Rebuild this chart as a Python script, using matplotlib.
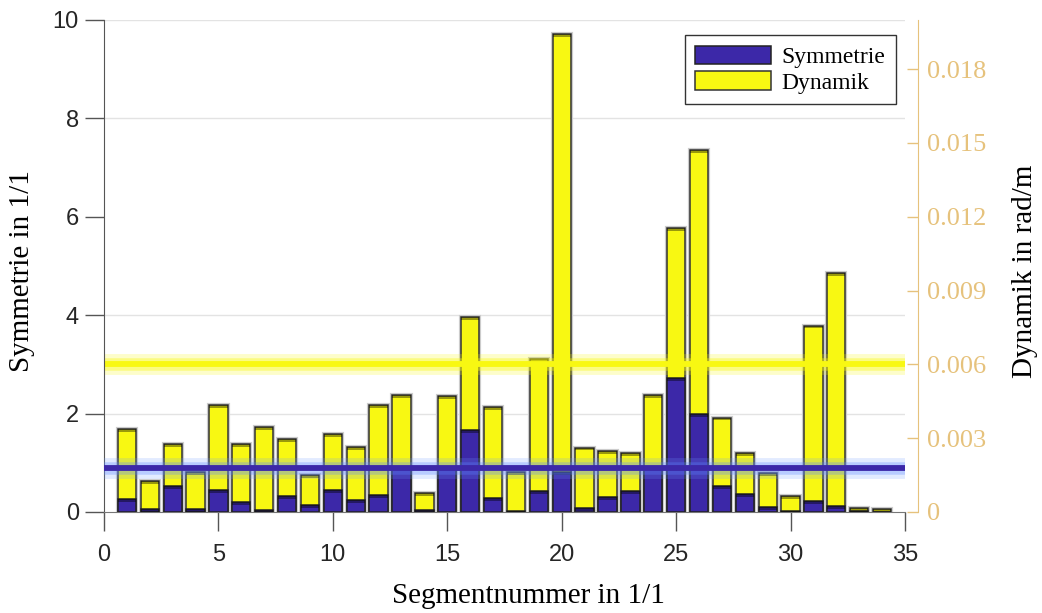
import numpy as np
import matplotlib
matplotlib.use("Agg")
import matplotlib.pyplot as plt
from matplotlib.patches import Patch

# ---------------- data ----------------
segments = list(range(1, 35))
symmetrie = [0.26, 0.06, 0.53, 0.06, 0.45, 0.20, 0.05, 0.33, 0.14, 0.44,
             0.24, 0.35, 0.92, 0.04, 0.92, 1.67, 0.28, 0.03, 0.43, 0.82,
             0.08, 0.30, 0.43, 0.92, 2.73, 1.99, 0.53, 0.37, 0.10, 0.02,
             0.22, 0.12, 0.02, 0.01]
dynamik = [0.00338, 0.00124, 0.00278, 0.00164, 0.00434, 0.00278, 0.00344, 0.00296, 0.00150, 0.00316,
           0.00264, 0.00436, 0.00476, 0.00076, 0.00472, 0.00794, 0.00428, 0.00162, 0.00622, 0.01944,
           0.00262, 0.00246, 0.00238, 0.00476, 0.01156, 0.01472, 0.00384, 0.00238, 0.00160, 0.00066,
           0.00758, 0.00972, 0.00018, 0.00011]
sym_threshold = 0.9
dyn_threshold = 0.006
x_ticks = [0, 5, 10, 15, 20, 25, 30, 35]
sym_ticks = [0, 2, 4, 6, 8, 10]
dyn_ticks = [0, 0.003, 0.006, 0.009, 0.012, 0.015, 0.018]
dyn_ticklabels = ["0", "0.003", "0.006", "0.009", "0.012", "0.015", "0.018"]
labels = ["Symmetrie", "Dynamik"]

# ---------------- style ----------------
BLUE = "#3c28a8"
YELLOW = "#f8f812"
TAN = "#e6c27c"
SERIF = ["Liberation Serif", "DejaVu Serif"]
SANS = ["Liberation Sans", "DejaVu Sans"]
sym_max, dyn_max = 10, 0.02

fig = plt.figure(figsize=(10.42, 6.13), dpi=100)
ax = fig.add_axes([104 / 1042, 101 / 613, 801 / 1042, 492 / 613])
ax2 = ax.twinx()
ax.set_zorder(2)
ax2.set_zorder(1)
ax.patch.set_visible(False)

x = np.array(segments)
w = 0.8
sym = np.array(symmetrie)
dyn = np.array(dynamik)

# yellow bars (right axis), behind
ax2.bar(x, dyn, width=w, color="none", edgecolor="#cccccc", linewidth=3.0, zorder=2)
ybars = ax2.bar(x, dyn, width=w, color=YELLOW, edgecolor="#333333", linewidth=1.1, zorder=3)
dcap = np.minimum(dyn, 0.06 * dyn_max / sym_max)
ax2.bar(x, dcap, bottom=dyn - dcap, width=w, color=(0, 0, 0, 0.38), edgecolor="none", zorder=4)
ax2.axhline(dyn_threshold, color=YELLOW, lw=15, alpha=0.22, zorder=5)
ax2.axhline(dyn_threshold, color=YELLOW, lw=9, alpha=0.4, zorder=5)
ax2.axhline(dyn_threshold, color=YELLOW, lw=4.2, zorder=6)

# blue bars (left axis), in front
bbars = ax.bar(x, sym, width=w, color=BLUE, edgecolor="#222222", linewidth=1.1, zorder=3)
scap = np.minimum(sym, 0.06)
ax.bar(x, scap, bottom=sym - scap, width=w, color=(0, 0, 0, 0.4), edgecolor="none", zorder=4)
ax.axhline(sym_threshold, color="#6f9bff", lw=15, alpha=0.2, zorder=5)
ax.axhline(sym_threshold, color="#5a86ff", lw=9, alpha=0.3, zorder=5)
ax.axhline(sym_threshold, color=BLUE, lw=4.2, zorder=6)

# axes limits / ticks
ax.set_xlim(0, 35)
ax.set_ylim(0, sym_max)
ax2.set_ylim(0, dyn_max)
ax.set_xticks(x_ticks)
ax.set_yticks(sym_ticks)

# grid on the back axes
ax2.set_yticks(np.array(sym_ticks) * dyn_max / sym_max, minor=True)
ax2.grid(which="minor", axis="y", color="#e3e3e3", lw=1.0, zorder=0)
ax2.grid(which="major", axis="x", color="#e3e3e3", lw=1.0, zorder=0)
ax2.tick_params(axis="y", which="minor", length=0)

ax.tick_params(axis="both", direction="out", length=14, width=1, color="#555555",
               labelsize=17, labelcolor="#262626")
ax.tick_params(axis="x", pad=9)
ax.tick_params(axis="y", pad=4)
ax.set_xticklabels([str(v) for v in x_ticks])
ax.set_yticklabels([str(v) for v in sym_ticks])

ax2.tick_params(axis="y", which="major", direction="in", length=8, width=1, color=TAN,
                labelsize=19, labelcolor=TAN, pad=7)
ax2.set_yticks(dyn_ticks)
ax2.set_yticklabels(dyn_ticklabels)

for s in ["top", "right"]:
    ax.spines[s].set_visible(False)
for s in ["top", "left", "bottom"]:
    ax2.spines[s].set_visible(False)
ax.spines["left"].set_color("#555555")
ax.spines["bottom"].set_color("#777777")
ax2.spines["right"].set_color(TAN)
ax2.spines["right"].set_position(("outward", 9))

ax.set_xlabel("Segmentnummer in 1/1", family=SERIF, fontsize=21)
ax.xaxis.set_label_coords(0.53, -0.145)
ax.set_ylabel("Symmetrie in 1/1", family=SERIF, fontsize=21)
ax.yaxis.set_label_coords(-0.086, 0.49)
ax2.set_ylabel("Dynamik in rad/m", family=SERIF, fontsize=21)
ax2.yaxis.set_label_coords(1.133, 0.49)

handles = [Patch(facecolor=BLUE, edgecolor="#222222", lw=1.1),
           Patch(facecolor=YELLOW, edgecolor="#333333", lw=1.1)]
leg = ax.legend(handles, labels, loc="upper right",
                bbox_to_anchor=((896 - 104) / 801, (512 - 35) / 492), borderaxespad=0,
                prop={"family": SERIF, "size": 17}, frameon=True, fancybox=False,
                edgecolor="black", handlelength=3.2, handleheight=0.85,
                labelspacing=0.12, handletextpad=0.45, borderpad=0.45)
leg.get_frame().set_linewidth(1.0)
leg.set_zorder(10)

# enforce fonts on tick labels
fig.canvas.draw()
for t in ax.xaxis.get_major_ticks() + ax.yaxis.get_major_ticks():
    for lab in (t.label1, t.label2):
        lab.set_fontfamily(SANS)
for t in ax2.yaxis.get_major_ticks():
    for lab in (t.label1, t.label2):
        lab.set_fontfamily(SERIF)
        lab.set_fontsize(19)

fig.savefig("out.png", dpi=100)
